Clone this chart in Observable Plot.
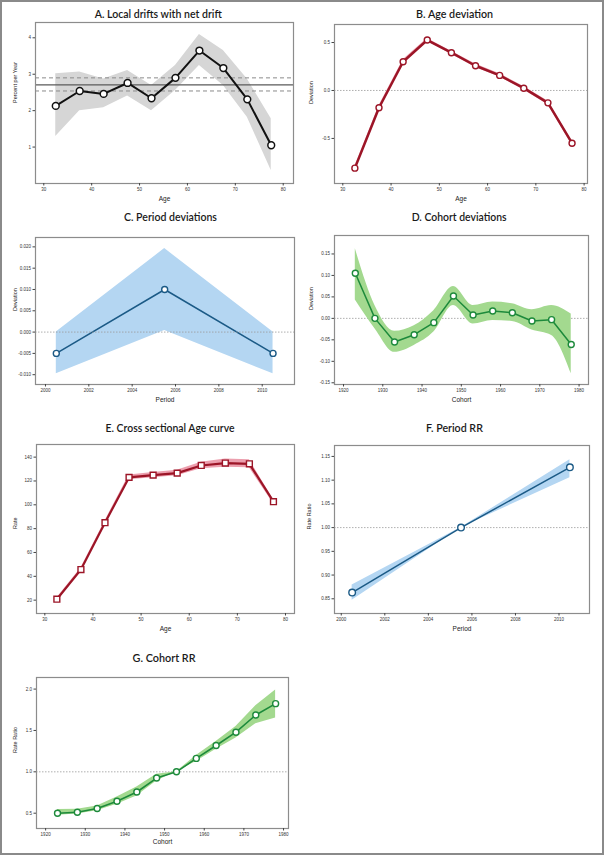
<!DOCTYPE html>
<html><head><meta charset="utf-8">
<script src="https://cdn.jsdelivr.net/npm/d3@7"></script>
<script src="https://cdn.jsdelivr.net/npm/@observablehq/plot@0.6"></script>
<style>
html,body{margin:0;padding:0;background:#fff;}
#fig{position:relative;width:604px;height:855px;overflow:hidden;background:#fff;}
#border{position:absolute;left:0;top:0;width:604px;height:855px;box-sizing:border-box;border:2px solid #8a8a8a;pointer-events:none;}
.title{position:absolute;white-space:nowrap;font-family:Lato,"Open Sans",sans-serif;font-size:11px;font-weight:600;color:#1a1a1a;line-height:1;}
</style></head><body><div id="fig"><div id="border"></div></div><script>
// ---------- data ----------
const ageMid = [32.5, 37.5, 42.5, 47.5, 52.5, 57.5, 62.5, 67.5, 72.5, 77.5];
const periodMid = [2000.5, 2005.5, 2010.5];
const cohortMid = [1923, 1928, 1933, 1938, 1943, 1948, 1953, 1958, 1963, 1968, 1973, 1978];

// A. Local drifts with net drift
const localDrift   = [2.13, 2.54, 2.46, 2.76, 2.34, 2.90, 3.65, 3.17, 2.31, 1.05];
const localDriftLo = [1.29, 2.00, 2.08, 2.40, 2.00, 2.55, 3.24, 2.69, 1.82, 0.36];
const localDriftHi = [3.01, 3.06, 2.87, 3.10, 2.69, 3.24, 4.09, 3.65, 2.87, 1.78];
const netDrift = [2.71];
const netDriftCI = [2.54, 2.90];

// B. Age deviation
const ageDev   = [-0.81, -0.18, 0.30, 0.526, 0.394, 0.258, 0.157, 0.024, -0.129, -0.55];
const ageDevLo = [-0.83, -0.20, 0.28, 0.51, 0.378, 0.24, 0.14, 0.006, -0.148, -0.57];
const ageDevHi = [-0.79, -0.16, 0.32, 0.542, 0.41, 0.276, 0.174, 0.042, -0.11, -0.53];

// C. Period deviations
const periodDev   = [-0.005, 0.010, -0.005];
const periodDevLo = [-0.0098, 0.0004, -0.0098];
const periodDevHi = [0.0, 0.0196, 0.0];

// D. Cohort deviations
const cohortDev   = [0.105, 0.000, -0.055, -0.038, -0.010, 0.052, 0.008, 0.017, 0.013, -0.006, -0.003, -0.061];
const cohortDevLo = [0.043, -0.024, -0.079, -0.063, -0.032, 0.030, -0.013, -0.005, -0.007, -0.027, -0.040, -0.129];
const cohortDevHi = [0.162, 0.030, -0.030, -0.017, 0.018, 0.074, 0.030, 0.038, 0.034, 0.020, 0.030, 0.010];

// E. Cross sectional Age curve
const ageRate   = [20.8, 45.7, 85.0, 123.0, 124.9, 126.6, 133.0, 135.0, 134.4, 102.6];
const ageRateLo = [19.8, 44.5, 83.5, 121.0, 122.7, 124.3, 130.2, 131.6, 131.0, 100.8];
const ageRateHi = [21.8, 46.9, 86.5, 125.0, 127.1, 128.9, 135.8, 138.4, 137.8, 104.4];

// F. Period RR
const periodRR   = [0.863, 1.0, 1.127];
const periodRRLo = [0.847, 1.0, 1.105];
const periodRRHi = [0.879, 1.0, 1.143];

// G. Cohort RR
const cohortRR   = [0.50, 0.512, 0.556, 0.644, 0.756, 0.925, 1.0, 1.162, 1.318, 1.479, 1.687, 1.824];
const cohortRRLo = [0.476, 0.49, 0.53, 0.608, 0.709, 0.89, 1.0, 1.126, 1.273, 1.41, 1.58, 1.65];
const cohortRRHi = [0.544, 0.548, 0.588, 0.696, 0.817, 0.97, 1.0, 1.198, 1.366, 1.547, 1.80, 1.99];

// tick values
const ageTicks = [30, 40, 50, 60, 70, 80];
const periodTicks = [2000, 2002, 2004, 2006, 2008, 2010];
const cohortTicks = [1920, 1930, 1940, 1950, 1960, 1970, 1980];
const driftTicks = [1, 2, 3, 4];
const ageDevTicks = [-0.5, 0.0, 0.5];
const periodDevTicks = [-0.010, -0.005, 0.000, 0.005, 0.010, 0.015, 0.020];
const cohortDevTicks = [-0.15, -0.10, -0.05, 0.00, 0.05, 0.10, 0.15];
const rateTicks = [20, 40, 60, 80, 100, 120, 140];
const periodRRTicks = [0.85, 0.90, 0.95, 1.00, 1.05, 1.10, 1.15];
const cohortRRTicks = [0.5, 1.0, 1.5, 2.0];

// ---------- helpers ----------
const table = (xs, y, lo, hi) => xs.map((x, i) => ({x, y: y[i], lo: lo[i], hi: hi[i]}));
const fmt = (n) => (d) => d.toFixed(n);

const RED = "#9c1527", PINK = "#ec9fae";
const BLUE = "#1b5a86", LBLUE = "#b4d6f2";
const GREEN = "#1d8a3b", LGREEN = "#a3d98f";

const fig = document.getElementById("fig");
const COLW = 302;
const ROWS = [[0, 210], [210, 210], [420, 210], [630, 225]];

function panel(o) {
  const left = o.col * COLW, [top, h] = ROWS[o.row];
  const [x0, y0, x1, y1] = o.box;
  const svg = Plot.plot({
    width: COLW, height: h,
    marginLeft: x0 - left, marginRight: left + COLW - x1,
    marginTop: y0 - top, marginBottom: top + h - y1,
    x: {domain: o.xDomain},
    y: {domain: o.yDomain},
    style: {fontFamily: "Arial, 'Liberation Sans', sans-serif", fontSize: "4.5px", color: "#333", background: "transparent", overflow: "visible"},
    marks: [
      ...o.marks,
      Plot.frame({stroke: "#8c8c8c", strokeWidth: 1.2}),
      Plot.axisX(o.xTicks, {tickSize: 2.5, tickPadding: 2, tickFormat: o.xFmt || (d => String(d)), label: null, stroke: "#444"}),
      Plot.axisY(o.yTicks, {tickSize: 2.5, tickPadding: 2, tickFormat: o.yFmt || (d => String(d)), label: null, stroke: "#444"}),
      Plot.text([o.xLabel], {text: d => d, frameAnchor: "bottom", dy: o.xLabelDy || 17, fontSize: 6.5, fill: "#222"}),
      Plot.text([o.yLabel], {text: d => d, frameAnchor: "left", rotate: -90, dx: o.yLabelDx, fontSize: 5.5, fill: "#222"})
    ]
  });
  svg.style.position = "absolute";
  svg.style.left = left + "px";
  svg.style.top = top + "px";
  fig.appendChild(svg);
  const t = document.createElement("div");
  t.className = "title";
  t.textContent = o.title;
  fig.appendChild(t);
  const r = t.getBoundingClientRect();
  const s = o.titleW / r.width;
  t.style.left = (o.titleX - r.width / 2) + "px";
  t.style.top = (o.titleY - r.height / 2) + "px";
  t.style.transformOrigin = "50% 50%";
  t.style.transform = `scaleX(${s})`;
}

function bandLine(data, band, line, lw, symbol, r, bandCurve) {
  return [
    Plot.areaY(data, {x: "x", y1: "lo", y2: "hi", fill: band, curve: bandCurve || "linear"}),
    Plot.line(data, {x: "x", y: "y", stroke: line, strokeWidth: lw}),
    Plot.dot(data, {x: "x", y: "y", r: r || 3, symbol: symbol || "circle", fill: "white", stroke: line, strokeWidth: 1.4})
  ];
}
const refLine = (v) => Plot.ruleY(v, {stroke: "#9a9a9a", strokeWidth: 0.8, strokeDasharray: "1.5,1.5"});

// A
const dA = table(ageMid, localDrift, localDriftLo, localDriftHi);
panel({
  col: 0, row: 0, box: [35, 22, 293, 183], title: "A. Local drifts with net drift", titleX: 158, titleY: 13, titleW: 127,
  xDomain: [28.27, 82.15], yDomain: [0.0, 4.42], xTicks: ageTicks, yTicks: driftTicks,
  xLabel: "Age", yLabel: "Percent per Year", yLabelDx: -20,
  marks: [
    Plot.areaY(dA, {x: "x", y1: "lo", y2: "hi", fill: "#d6d6d6"}),
    Plot.ruleY(netDrift, {stroke: "#5a5a5a", strokeWidth: 1.3}),
    Plot.ruleY(netDriftCI, {stroke: "#8a8a8a", strokeWidth: 1, strokeDasharray: "4,3"}),
    Plot.line(dA, {x: "x", y: "y", stroke: "#111", strokeWidth: 2}),
    Plot.dot(dA, {x: "x", y: "y", r: 3.4, fill: "white", stroke: "#111", strokeWidth: 1.5})
  ]
});

// B
panel({
  col: 1, row: 0, box: [334, 24, 587, 183], title: "B. Age deviation", titleX: 455, titleY: 13, titleW: 77,
  xDomain: [28.28, 80.7], yDomain: [-0.97, 0.688], xTicks: ageTicks, yTicks: ageDevTicks, yFmt: fmt(1),
  xLabel: "Age", yLabel: "Deviation", yLabelDx: -23,
  marks: [refLine([0]), ...bandLine(table(ageMid, ageDev, ageDevLo, ageDevHi), PINK, RED, 2.5)]
});

// C
panel({
  col: 0, row: 1, box: [35, 237, 294, 384], title: "C. Period deviations", titleX: 170, titleY: 216, titleW: 93,
  xDomain: [1999.54, 2011.49], yDomain: [-0.0123, 0.0222], xTicks: periodTicks, yTicks: periodDevTicks, yFmt: fmt(3),
  xLabel: "Period", yLabel: "Deviation", yLabelDx: -20,
  marks: [...bandLine(table(periodMid, periodDev, periodDevLo, periodDevHi), LBLUE, BLUE, 1.5), refLine([0])]
});

// D
panel({
  col: 1, row: 1, box: [334, 235, 588, 384], title: "D. Cohort deviations", titleX: 459, titleY: 216, titleW: 95,
  xDomain: [1917.7, 1982.4], yDomain: [-0.154, 0.193], xTicks: cohortTicks, yTicks: cohortDevTicks, yFmt: fmt(2),
  xLabel: "Cohort", yLabel: "Deviation", yLabelDx: -23,
  marks: [refLine([0]), ...bandLine(table(cohortMid, cohortDev, cohortDevLo, cohortDevHi), LGREEN, GREEN, 1.5, "circle", 3, "monotone-x")]
});

// E
panel({
  col: 0, row: 2, box: [36, 444, 294, 613], title: "E. Cross sectional Age curve", titleX: 170, titleY: 427, titleW: 129,
  xDomain: [28.27, 81.87], yDomain: [8.8, 150.6], xTicks: ageTicks, yTicks: rateTicks,
  xLabel: "Age", yLabel: "Rate", yLabelDx: -21,
  marks: [...bandLine(table(ageMid, ageRate, ageRateLo, ageRateHi), PINK, RED, 2.2, "square", 3.3)]
});

// F
panel({
  col: 1, row: 2, box: [334, 445, 589, 613], title: "F. Period RR", titleX: 454, titleY: 427, titleW: 57,
  xDomain: [1999.69, 2011.4], yDomain: [0.819, 1.173], xTicks: periodTicks, yTicks: periodRRTicks, yFmt: fmt(2),
  xLabel: "Period", yLabel: "Rate Ratio", yLabelDx: -25,
  marks: [refLine([1]), ...bandLine(table(periodMid, periodRR, periodRRLo, periodRRHi), LBLUE, BLUE, 1.5, "circle", 3.3)]
});

// G
panel({
  col: 0, row: 3, box: [36, 677, 288, 828], title: "G. Cohort RR", titleX: 164, titleY: 657, titleW: 63,
  xDomain: [1917.7, 1981.25], yDomain: [0.315, 2.14], xTicks: cohortTicks, yTicks: cohortRRTicks, yFmt: fmt(1),
  xLabel: "Cohort", yLabel: "Rate Ratio", yLabelDx: -21, xLabelDy: 15,
  marks: [refLine([1]), ...bandLine(table(cohortMid, cohortRR, cohortRRLo, cohortRRHi), LGREEN, GREEN, 1.6)]
});
</script></body></html>
